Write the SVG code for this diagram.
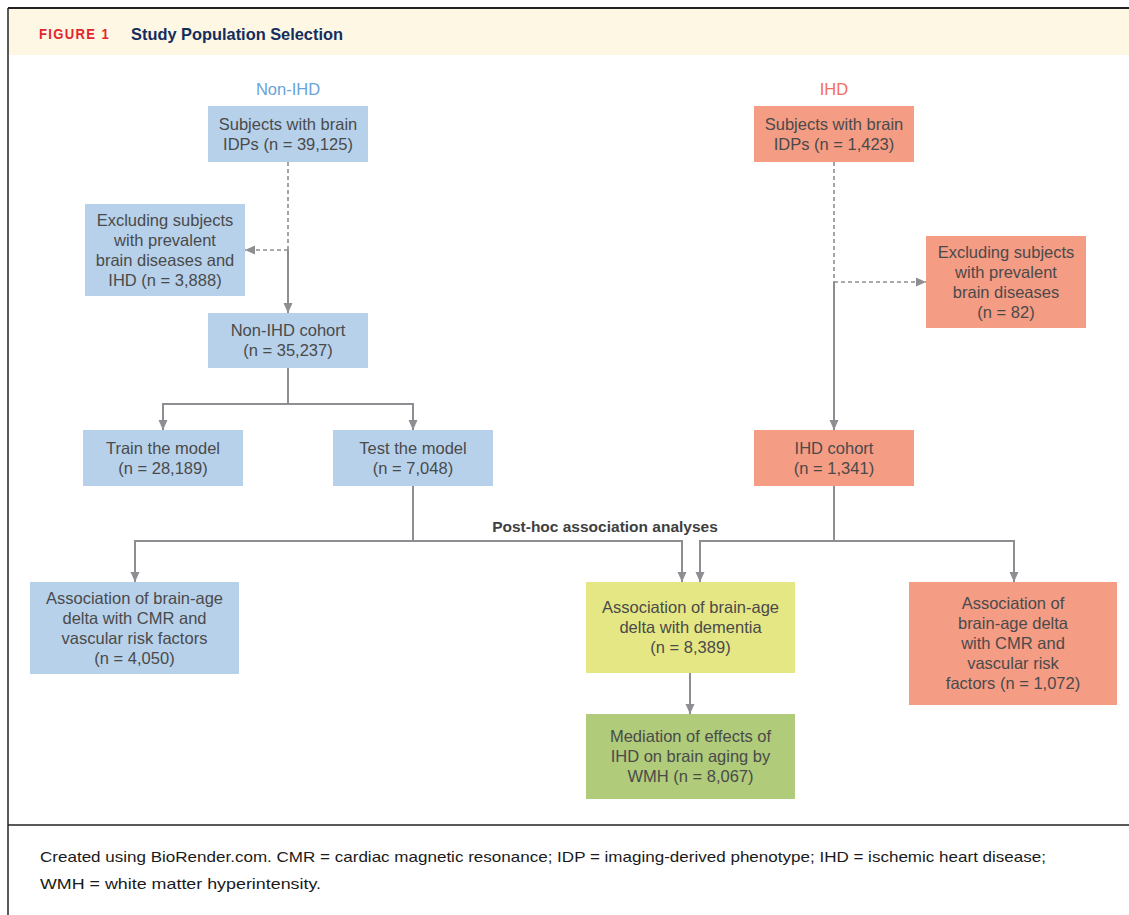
<svg xmlns="http://www.w3.org/2000/svg" width="1129" height="915" viewBox="0 0 1129 915">
<defs>
<style>
.bx{stroke:none}
.blue{fill:#b7d1ea}
.red{fill:#f59c85}
.yel{fill:#e5e784}
.grn{fill:#b0cb7a}
.t{font-family:"Liberation Sans",Arial,sans-serif;font-size:16.5px;fill:#4a4a4a;text-anchor:middle}
.c{fill:none;stroke:#8e8e92;stroke-width:2}
.d{fill:none;stroke:#8e8e92;stroke-width:1.6;stroke-dasharray:4 3}
.cap{font-family:"Liberation Sans",Arial,sans-serif;font-size:15px;fill:#1a1a1a}
</style>
<marker id="ar" viewBox="0 0 10 10" refX="10" refY="5" markerWidth="10" markerHeight="10" markerUnits="userSpaceOnUse" orient="auto">
<path d="M0,0.5 L10,5 L0,9.5 z" fill="#8e8e92"/>
</marker>
</defs>
<rect x="0" y="0" width="1129" height="915" fill="#ffffff"/>
<g id="frame">
<rect x="9" y="9" width="1120" height="46" fill="#fef7e4"/>
<line x1="8" y1="8" x2="1129" y2="8" stroke="#222" stroke-width="2"/>
<line x1="8" y1="8" x2="8" y2="915" stroke="#222" stroke-width="1.5"/>
<line x1="8" y1="825" x2="1129" y2="825" stroke="#222" stroke-width="1.5"/>
<text x="39" y="39" font-family="'Liberation Sans',Arial,sans-serif" font-size="14" font-weight="bold" fill="#e3262d" letter-spacing="1.4" textLength="71" lengthAdjust="spacingAndGlyphs">FIGURE 1</text>
<text x="131" y="39.5" font-family="'Liberation Sans',Arial,sans-serif" font-size="16.5" font-weight="bold" fill="#132d5e" textLength="212" lengthAdjust="spacingAndGlyphs">Study Population Selection</text>
<text x="288" y="95" font-family="'Liberation Sans',Arial,sans-serif" font-size="16.5" fill="#69a3d8" text-anchor="middle">Non-IHD</text>
<text x="834" y="95" font-family="'Liberation Sans',Arial,sans-serif" font-size="16.5" fill="#f26e5c" text-anchor="middle">IHD</text>
<text x="605" y="532" font-family="'Liberation Sans',Arial,sans-serif" font-size="15.5" font-weight="bold" fill="#3f3f3f" text-anchor="middle">Post-hoc association analyses</text>
</g>
<g id="connectors">
<path class="d" d="M288,162 V250"/>
<path class="d" d="M288,250 H245" marker-end="url(#ar)"/>
<path class="c" d="M288,250 V313" marker-end="url(#ar)"/>
<path class="c" d="M288,368 V404"/>
<path class="c" d="M163,404 H413"/>
<path class="c" d="M163,403 V430" marker-end="url(#ar)"/>
<path class="c" d="M413,403 V430" marker-end="url(#ar)"/>
<path class="d" d="M834,162 V282"/>
<path class="d" d="M834,282 H926" marker-end="url(#ar)"/>
<path class="c" d="M834,282 V430" marker-end="url(#ar)"/>
<path class="c" d="M413,486 V541"/>
<path class="c" d="M135,582 V541 H682 V582" marker-end="url(#ar)"/>
<path class="c" d="M135,541 V582" marker-end="url(#ar)"/>
<path class="c" d="M834,486 V541"/>
<path class="c" d="M700,582 V541 H1014 V582" marker-end="url(#ar)"/>
<path class="c" d="M700,541 V582" marker-end="url(#ar)"/>
<path class="c" d="M690,673 V714" marker-end="url(#ar)"/>
</g>
<g id="n1"><rect class="bx blue" x="208" y="106" width="160" height="56"/>
<text class="t" x="288" y="130">Subjects with brain</text><text class="t" x="288" y="150">IDPs (n = 39,125)</text></g>
<g id="n2"><rect class="bx blue" x="85" y="204" width="160" height="92"/>
<text class="t" x="165" y="225.5">Excluding subjects</text><text class="t" x="165" y="245.5">with prevalent</text><text class="t" x="165" y="265.5">brain diseases and</text><text class="t" x="165" y="285.5">IHD (n = 3,888)</text></g>
<g id="n3"><rect class="bx blue" x="208" y="313" width="160" height="55"/>
<text class="t" x="288" y="336">Non-IHD cohort</text><text class="t" x="288" y="356">(n = 35,237)</text></g>
<g id="n4"><rect class="bx blue" x="83" y="430" width="160" height="56"/>
<text class="t" x="163" y="454">Train the model</text><text class="t" x="163" y="474">(n = 28,189)</text></g>
<g id="n5"><rect class="bx blue" x="333" y="430" width="160" height="56"/>
<text class="t" x="413" y="454">Test the model</text><text class="t" x="413" y="474">(n = 7,048)</text></g>
<g id="n6"><rect class="bx red" x="754" y="106" width="160" height="56"/>
<text class="t" x="834" y="130">Subjects with brain</text><text class="t" x="834" y="150">IDPs (n = 1,423)</text></g>
<g id="n7"><rect class="bx red" x="926" y="236" width="160" height="92"/>
<text class="t" x="1006" y="257.5">Excluding subjects</text><text class="t" x="1006" y="277.5">with prevalent</text><text class="t" x="1006" y="297.5">brain diseases</text><text class="t" x="1006" y="317.5">(n = 82)</text></g>
<g id="n8"><rect class="bx red" x="754" y="430" width="160" height="56"/>
<text class="t" x="834" y="454">IHD cohort</text><text class="t" x="834" y="474">(n = 1,341)</text></g>
<g id="n9"><rect class="bx blue" x="30" y="582" width="209" height="92"/>
<text class="t" x="134.5" y="603.5">Association of brain-age</text><text class="t" x="134.5" y="623.5">delta with CMR and</text><text class="t" x="134.5" y="643.5">vascular risk factors</text><text class="t" x="134.5" y="663.5">(n = 4,050)</text></g>
<g id="n10"><rect class="bx yel" x="586" y="582" width="209" height="91"/>
<text class="t" x="690.5" y="613">Association of brain-age</text><text class="t" x="690.5" y="633">delta with dementia</text><text class="t" x="690.5" y="653">(n = 8,389)</text></g>
<g id="n11"><rect class="bx grn" x="586" y="714" width="209" height="85"/>
<text class="t" x="690.5" y="742">Mediation of effects of</text><text class="t" x="690.5" y="762">IHD on brain aging by</text><text class="t" x="690.5" y="782">WMH (n = 8,067)</text></g>
<g id="n12"><rect class="bx red" x="909" y="582" width="208" height="123"/>
<text class="t" x="1013" y="609">Association of</text><text class="t" x="1013" y="629">brain-age delta</text><text class="t" x="1013" y="649">with CMR and</text><text class="t" x="1013" y="669">vascular risk</text><text class="t" x="1013" y="689">factors (n = 1,072)</text></g>
<g id="caption">
<text class="cap" x="40" y="862" textLength="1006" lengthAdjust="spacingAndGlyphs">Created using BioRender.com. CMR = cardiac magnetic resonance; IDP = imaging-derived phenotype; IHD = ischemic heart disease;</text>
<text class="cap" x="40" y="889" textLength="281" lengthAdjust="spacingAndGlyphs">WMH = white matter hyperintensity.</text>
</g>
</svg>
